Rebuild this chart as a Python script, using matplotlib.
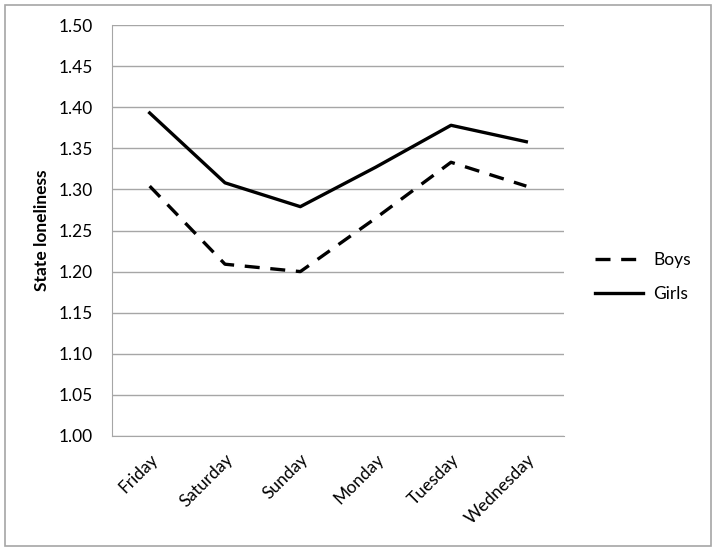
import matplotlib
matplotlib.use("Agg")
import matplotlib.pyplot as plt
from matplotlib.patches import Rectangle

days = ["Friday", "Saturday", "Sunday", "Monday", "Tuesday", "Wednesday"]
boys = [1.304, 1.209, 1.200, 1.265, 1.333, 1.304]
girls = [1.393, 1.308, 1.279, 1.327, 1.378, 1.358]
yticks = [1.00, 1.05, 1.10, 1.15, 1.20, 1.25, 1.30, 1.35, 1.40, 1.45, 1.50]

plt.rcParams['font.family'] = ['Lato', 'DejaVu Sans']
FS = 12.5

fig = plt.figure(figsize=(7.16, 5.51), dpi=100)
fig.patches.append(Rectangle((5/716, 5/551), 706/716, 541/551, transform=fig.transFigure,
                             fill=False, edgecolor='#a6a6a6', linewidth=1.2))
ax = fig.add_axes([112/716, 1 - 436/551, 452/716, 411/551])

x = list(range(len(days)))
ax.plot(x, boys, color='black', linewidth=2.4, dashes=(4.5, 3.2), label='Boys')
ax.plot(x, girls, color='black', linewidth=2.4, label='Girls')

ax.set_xlim(-0.5, len(days) - 0.5)
ax.set_ylim(1.0, 1.5)
ax.set_yticks(yticks)
ax.set_yticklabels([f"{v:.2f}" for v in yticks], fontsize=FS)
ax.set_xticks(x)
ax.set_xticklabels(days, rotation=45, ha='right', rotation_mode='anchor', fontsize=FS)
ax.tick_params(axis='y', length=0, pad=14)
ax.tick_params(axis='x', length=0, pad=11)
ax.yaxis.grid(True, color='#a6a6a6', linewidth=1.0)
ax.set_axisbelow(True)
for s in ['top', 'right']:
    ax.spines[s].set_visible(False)
ax.spines['left'].set_color('#a6a6a6')
ax.spines['bottom'].set_color('#a6a6a6')
ax.set_ylabel('State loneliness', fontsize=FS, fontweight='bold', labelpad=6)

ax.legend(loc='center left', bbox_to_anchor=(1.035, 0.387), frameon=False, fontsize=FS,
          handlelength=2.76, labelspacing=1.03, handletextpad=0.57)

fig.savefig('out.png', dpi=100)
